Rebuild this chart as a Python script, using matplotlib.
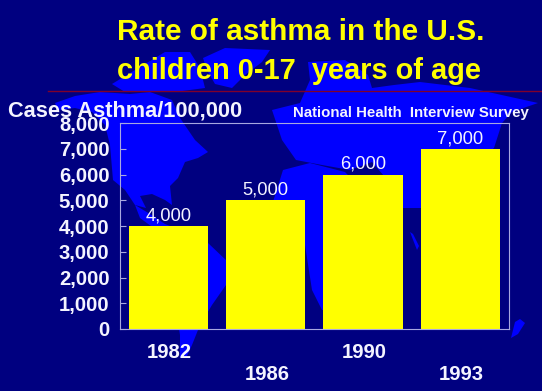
import matplotlib
matplotlib.use("Agg")
import matplotlib.pyplot as plt
from matplotlib.patches import Polygon

years = ["1982", "1986", "1990", "1993"]
rates = [4000, 5000, 6000, 7000]
value_labels = ["4,000", "5,000", "6,000", "7,000"]
y_ticks = [0, 1000, 2000, 3000, 4000, 5000, 6000, 7000, 8000]
title_lines = ["Rate of asthma in the U.S.", "children 0-17  years of age"]

W, H = 542, 391
BG = "#000080"
LAND = "#0000FF"
YEL = "#FFFF00"
WHITE = "#F4F4FF"
FONT = "Liberation Sans"

# Decorative world map in the background (pixel outline, y down)
land = [
    # Greenland
    [(203,58),(225,48),(270,50),(262,62),(245,75),(232,88),(215,84),(207,70)],
    # Arctic islands
    [(112,84),(135,70),(165,52),(190,52),(200,68),(205,88),(175,92),(125,92)],
    # North America
    [(55,103),(75,96),(100,92),(130,94),(150,92),(172,100),(180,118),(195,140),(208,152),
     (198,158),(185,162),(178,178),(170,186),(172,205),(165,200),(152,194),(140,196),(146,208),
     (135,205),(125,190),(113,180),(110,145),(105,125),(92,112),(75,108),(58,110)],
    # Central America
    [(135,205),(150,214),(165,224),(180,230),(172,233),(155,229),(140,218)],
    # South America
    [(168,230),(190,232),(208,243),(228,262),(226,285),(212,305),(200,325),(192,345),(186,358),
     (180,358),(180,335),(176,310),(172,280),(162,255)],
    # Europe + Asia
    [(272,110),(300,103),(310,80),(308,62),(345,60),(368,75),(372,88),(394,85),(420,82),(470,88),
     (538,103),(512,112),(502,123),(494,148),(478,160),(465,180),(450,190),(440,208),(403,208),
     (396,190),(372,162),(350,170),(322,165),(296,160),(282,140)],
    # Africa
    [(283,170),(310,163),(345,172),(372,200),(403,205),(395,235),(372,265),(362,300),(345,312),
     (322,310),(312,290),(305,245),(285,228),(272,205)],
    # Australia sliver
    [(410,232),(413,234),(419,246),(417,250)],
    # New Zealand
    [(515,322),(520,319),(525,323),(518,334),(511,338)],
]

fig = plt.figure(figsize=(W / 100, H / 100), dpi=100, facecolor=BG)
bgax = fig.add_axes([0, 0, 1, 1], zorder=0)
bgax.set_xlim(0, W)
bgax.set_ylim(H, 0)
bgax.axis("off")
for shape in land:
    bgax.add_patch(Polygon(shape, closed=True, facecolor=LAND, edgecolor="none"))
bgax.plot([48, W], [91, 91], color="#80002A", lw=1)

ax = fig.add_axes([119.5 / W, 1 - 329 / H, (509 - 119.5) / W, (329 - 123) / H], zorder=1)
ax.patch.set_alpha(0)
x = list(range(len(years)))
ax.bar(x, rates, width=0.815, color=YEL, edgecolor="none", zorder=2)
ax.set_xlim(-0.5, 3.5)
ax.set_ylim(0, 8000)
for s in ax.spines.values():
    s.set_color("#A8A8E0")
    s.set_linewidth(0.8)
ax.set_yticks(y_ticks)
ax.set_yticklabels([f"{v:,}" for v in y_ticks], fontfamily=FONT, fontweight="bold",
                   fontsize=14.6, color=WHITE)
ax.tick_params(axis="y", direction="in", length=4, width=0.8, color="#A8A8E0", pad=7.2)
ax.set_xticks(x)
ax.set_xticklabels([])
ax.tick_params(axis="x", length=0)

for i, (v, lab) in enumerate(zip(rates, value_labels)):
    ax.annotate(lab, (i, v), xytext=(0, 1.2), textcoords="offset points", ha="center", va="bottom",
                fontfamily=FONT, fontsize=13.2, color=WHITE, zorder=3)

# staggered category labels
for i, yr in enumerate(years):
    ypx = 352 if i % 2 == 0 else 375
    ax.annotate(yr, (i, 0), xycoords=("data", "axes fraction"),
                xytext=(1, -(ypx - 329) * 0.72), textcoords="offset points",
                ha="center", va="center", fontfamily=FONT, fontweight="bold",
                fontsize=14.6, color=WHITE, annotation_clip=False)


def px_text(px, py, s, **kw):
    fig.text(px / W, 1 - py / H, s, fontfamily=FONT, **kw)


px_text(117, 40, title_lines[0], fontsize=21.4, fontweight="bold", color=YEL, va="baseline")
px_text(117, 79, title_lines[1], fontsize=20.9, fontweight="bold", color=YEL, va="baseline")
px_text(8, 117, "Cases Asthma/100,000", fontsize=15.7, fontweight="bold", color=WHITE,
        va="baseline", zorder=5)
px_text(293, 117, "National Health  Interview Survey", fontsize=10.8, fontweight="bold",
        color=WHITE, va="baseline")

fig.savefig("out.png", dpi=100, facecolor=BG)
